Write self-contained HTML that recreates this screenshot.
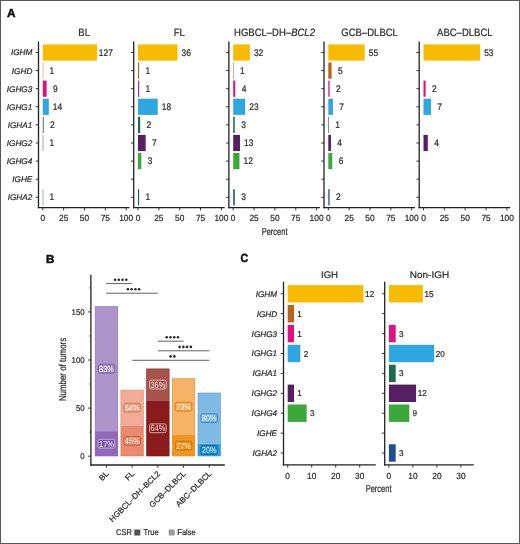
<!DOCTYPE html>
<html><head><meta charset="utf-8"><style>
html,body{margin:0;padding:0;background:#fff;}
#fig{position:relative;width:520px;height:544px;overflow:hidden;background:#fff;}
#fig svg{position:absolute;left:0;top:0;will-change:transform;}
#frame{position:absolute;left:0;top:0;width:520px;height:544px;box-sizing:border-box;border:1px solid #585858;}
text{font-family:"Liberation Sans", sans-serif;text-rendering:geometricPrecision;}
</style></head><body>
<div id="fig">
<svg width="520" height="544" viewBox="0 0 520 544" font-family="Liberation Sans, sans-serif">
<text transform="translate(7.1,16.8)" font-size="11.8" text-anchor="start" fill="#111" stroke="#111" stroke-width="0.5" font-weight="bold">A</text>
<rect x="42.8" y="44.4" width="54.32" height="16.2" fill="#F9BB00"/>
<text transform="translate(105.82,55.6) scale(0.88,1)" font-size="9.5" text-anchor="middle" fill="#2b2b2b" stroke="#2b2b2b" stroke-width="0.22">127</text>
<rect x="42.8" y="62.5" width="0.43" height="16.2" fill="#B8651C"/>
<text transform="translate(51.93,73.7) scale(0.88,1)" font-size="9.5" text-anchor="middle" fill="#2b2b2b" stroke="#2b2b2b" stroke-width="0.22">1</text>
<rect x="42.8" y="80.6" width="3.85" height="16.2" fill="#E0127F"/>
<text transform="translate(55.35,91.8) scale(0.88,1)" font-size="9.5" text-anchor="middle" fill="#2b2b2b" stroke="#2b2b2b" stroke-width="0.22">9</text>
<rect x="42.8" y="98.7" width="5.99" height="16.2" fill="#2EA6E0"/>
<text transform="translate(57.49,109.9) scale(0.88,1)" font-size="9.5" text-anchor="middle" fill="#2b2b2b" stroke="#2b2b2b" stroke-width="0.22">14</text>
<rect x="42.8" y="116.8" width="0.86" height="16.2" fill="#1D6A50"/>
<text transform="translate(52.36,128) scale(0.88,1)" font-size="9.5" text-anchor="middle" fill="#2b2b2b" stroke="#2b2b2b" stroke-width="0.22">2</text>
<rect x="42.8" y="134.9" width="0.43" height="16.2" fill="#571E62"/>
<text transform="translate(51.93,146.1) scale(0.88,1)" font-size="9.5" text-anchor="middle" fill="#2b2b2b" stroke="#2b2b2b" stroke-width="0.22">1</text>
<rect x="42.8" y="189.2" width="0.43" height="16.2" fill="#1E4E8C"/>
<text transform="translate(51.93,200.4) scale(0.88,1)" font-size="9.5" text-anchor="middle" fill="#2b2b2b" stroke="#2b2b2b" stroke-width="0.22">1</text>
<line x1="38.5" y1="41.5" x2="38.5" y2="208.25" stroke="#222222" stroke-width="1.3"/>
<line x1="37.85" y1="207.6" x2="129.5" y2="207.6" stroke="#222222" stroke-width="1.3"/>
<line x1="35.7" y1="52.5" x2="38.5" y2="52.5" stroke="#222222" stroke-width="0.9"/>
<line x1="35.7" y1="70.6" x2="38.5" y2="70.6" stroke="#222222" stroke-width="0.9"/>
<line x1="35.7" y1="88.7" x2="38.5" y2="88.7" stroke="#222222" stroke-width="0.9"/>
<line x1="35.7" y1="106.8" x2="38.5" y2="106.8" stroke="#222222" stroke-width="0.9"/>
<line x1="35.7" y1="124.9" x2="38.5" y2="124.9" stroke="#222222" stroke-width="0.9"/>
<line x1="35.7" y1="143" x2="38.5" y2="143" stroke="#222222" stroke-width="0.9"/>
<line x1="35.7" y1="161.1" x2="38.5" y2="161.1" stroke="#222222" stroke-width="0.9"/>
<line x1="35.7" y1="179.2" x2="38.5" y2="179.2" stroke="#222222" stroke-width="0.9"/>
<line x1="35.7" y1="197.3" x2="38.5" y2="197.3" stroke="#222222" stroke-width="0.9"/>
<line x1="42.8" y1="207.6" x2="42.8" y2="210.4" stroke="#222222" stroke-width="0.9"/>
<text transform="translate(42.8,221.2) scale(0.95,1)" font-size="8.8" text-anchor="middle" fill="#2b2b2b" stroke="#2b2b2b" stroke-width="0.22">0</text>
<line x1="63.65" y1="207.6" x2="63.65" y2="210.4" stroke="#222222" stroke-width="0.9"/>
<text transform="translate(63.65,221.2) scale(0.95,1)" font-size="8.8" text-anchor="middle" fill="#2b2b2b" stroke="#2b2b2b" stroke-width="0.22">25</text>
<line x1="84.5" y1="207.6" x2="84.5" y2="210.4" stroke="#222222" stroke-width="0.9"/>
<text transform="translate(84.5,221.2) scale(0.95,1)" font-size="8.8" text-anchor="middle" fill="#2b2b2b" stroke="#2b2b2b" stroke-width="0.22">50</text>
<line x1="105.35" y1="207.6" x2="105.35" y2="210.4" stroke="#222222" stroke-width="0.9"/>
<text transform="translate(105.35,221.2) scale(0.95,1)" font-size="8.8" text-anchor="middle" fill="#2b2b2b" stroke="#2b2b2b" stroke-width="0.22">75</text>
<line x1="126.2" y1="207.6" x2="126.2" y2="210.4" stroke="#222222" stroke-width="0.9"/>
<text transform="translate(126.2,221.2) scale(0.95,1)" font-size="8.8" text-anchor="middle" fill="#2b2b2b" stroke="#2b2b2b" stroke-width="0.22">100</text>
<text transform="translate(84.1,35.6) scale(0.89,1)" font-size="10.7" text-anchor="middle" fill="#2b2b2b" stroke="#2b2b2b" stroke-width="0.22">BL</text>
<rect x="138" y="44.4" width="39.51" height="16.2" fill="#F9BB00"/>
<text transform="translate(186.21,55.6) scale(0.88,1)" font-size="9.5" text-anchor="middle" fill="#2b2b2b" stroke="#2b2b2b" stroke-width="0.22">36</text>
<rect x="138" y="62.5" width="1.1" height="16.2" fill="#B8651C"/>
<text transform="translate(147.8,73.7) scale(0.88,1)" font-size="9.5" text-anchor="middle" fill="#2b2b2b" stroke="#2b2b2b" stroke-width="0.22">1</text>
<rect x="138" y="80.6" width="1.1" height="16.2" fill="#E0127F"/>
<text transform="translate(147.8,91.8) scale(0.88,1)" font-size="9.5" text-anchor="middle" fill="#2b2b2b" stroke="#2b2b2b" stroke-width="0.22">1</text>
<rect x="138" y="98.7" width="19.75" height="16.2" fill="#2EA6E0"/>
<text transform="translate(166.45,109.9) scale(0.88,1)" font-size="9.5" text-anchor="middle" fill="#2b2b2b" stroke="#2b2b2b" stroke-width="0.22">18</text>
<rect x="138" y="116.8" width="2.19" height="16.2" fill="#1D6A50"/>
<text transform="translate(148.89,128) scale(0.88,1)" font-size="9.5" text-anchor="middle" fill="#2b2b2b" stroke="#2b2b2b" stroke-width="0.22">2</text>
<rect x="138" y="134.9" width="7.68" height="16.2" fill="#571E62"/>
<text transform="translate(154.38,146.1) scale(0.88,1)" font-size="9.5" text-anchor="middle" fill="#2b2b2b" stroke="#2b2b2b" stroke-width="0.22">7</text>
<rect x="138" y="153" width="3.29" height="16.2" fill="#3AA83A"/>
<text transform="translate(149.99,164.2) scale(0.88,1)" font-size="9.5" text-anchor="middle" fill="#2b2b2b" stroke="#2b2b2b" stroke-width="0.22">3</text>
<rect x="138" y="189.2" width="1.1" height="16.2" fill="#1E4E8C"/>
<text transform="translate(147.8,200.4) scale(0.88,1)" font-size="9.5" text-anchor="middle" fill="#2b2b2b" stroke="#2b2b2b" stroke-width="0.22">1</text>
<line x1="133.7" y1="41.5" x2="133.7" y2="208.25" stroke="#222222" stroke-width="1.3"/>
<line x1="133.05" y1="207.6" x2="224.7" y2="207.6" stroke="#222222" stroke-width="1.3"/>
<line x1="130.9" y1="52.5" x2="133.7" y2="52.5" stroke="#222222" stroke-width="0.9"/>
<line x1="130.9" y1="70.6" x2="133.7" y2="70.6" stroke="#222222" stroke-width="0.9"/>
<line x1="130.9" y1="88.7" x2="133.7" y2="88.7" stroke="#222222" stroke-width="0.9"/>
<line x1="130.9" y1="106.8" x2="133.7" y2="106.8" stroke="#222222" stroke-width="0.9"/>
<line x1="130.9" y1="124.9" x2="133.7" y2="124.9" stroke="#222222" stroke-width="0.9"/>
<line x1="130.9" y1="143" x2="133.7" y2="143" stroke="#222222" stroke-width="0.9"/>
<line x1="130.9" y1="161.1" x2="133.7" y2="161.1" stroke="#222222" stroke-width="0.9"/>
<line x1="130.9" y1="179.2" x2="133.7" y2="179.2" stroke="#222222" stroke-width="0.9"/>
<line x1="130.9" y1="197.3" x2="133.7" y2="197.3" stroke="#222222" stroke-width="0.9"/>
<line x1="138" y1="207.6" x2="138" y2="210.4" stroke="#222222" stroke-width="0.9"/>
<text transform="translate(138,221.2) scale(0.95,1)" font-size="8.8" text-anchor="middle" fill="#2b2b2b" stroke="#2b2b2b" stroke-width="0.22">0</text>
<line x1="158.85" y1="207.6" x2="158.85" y2="210.4" stroke="#222222" stroke-width="0.9"/>
<text transform="translate(158.85,221.2) scale(0.95,1)" font-size="8.8" text-anchor="middle" fill="#2b2b2b" stroke="#2b2b2b" stroke-width="0.22">25</text>
<line x1="179.7" y1="207.6" x2="179.7" y2="210.4" stroke="#222222" stroke-width="0.9"/>
<text transform="translate(179.7,221.2) scale(0.95,1)" font-size="8.8" text-anchor="middle" fill="#2b2b2b" stroke="#2b2b2b" stroke-width="0.22">50</text>
<line x1="200.55" y1="207.6" x2="200.55" y2="210.4" stroke="#222222" stroke-width="0.9"/>
<text transform="translate(200.55,221.2) scale(0.95,1)" font-size="8.8" text-anchor="middle" fill="#2b2b2b" stroke="#2b2b2b" stroke-width="0.22">75</text>
<line x1="221.4" y1="207.6" x2="221.4" y2="210.4" stroke="#222222" stroke-width="0.9"/>
<text transform="translate(221.4,221.2) scale(0.95,1)" font-size="8.8" text-anchor="middle" fill="#2b2b2b" stroke="#2b2b2b" stroke-width="0.22">100</text>
<text transform="translate(179.3,35.6) scale(0.89,1)" font-size="10.7" text-anchor="middle" fill="#2b2b2b" stroke="#2b2b2b" stroke-width="0.22">FL</text>
<rect x="233.2" y="44.4" width="16.68" height="16.2" fill="#F9BB00"/>
<text transform="translate(258.58,55.6) scale(0.88,1)" font-size="9.5" text-anchor="middle" fill="#2b2b2b" stroke="#2b2b2b" stroke-width="0.22">32</text>
<rect x="233.2" y="62.5" width="0.52" height="16.2" fill="#B8651C"/>
<text transform="translate(242.42,73.7) scale(0.88,1)" font-size="9.5" text-anchor="middle" fill="#2b2b2b" stroke="#2b2b2b" stroke-width="0.22">1</text>
<rect x="233.2" y="80.6" width="2.09" height="16.2" fill="#E0127F"/>
<text transform="translate(243.99,91.8) scale(0.88,1)" font-size="9.5" text-anchor="middle" fill="#2b2b2b" stroke="#2b2b2b" stroke-width="0.22">4</text>
<rect x="233.2" y="98.7" width="11.99" height="16.2" fill="#2EA6E0"/>
<text transform="translate(253.89,109.9) scale(0.88,1)" font-size="9.5" text-anchor="middle" fill="#2b2b2b" stroke="#2b2b2b" stroke-width="0.22">23</text>
<rect x="233.2" y="116.8" width="1.56" height="16.2" fill="#1D6A50"/>
<text transform="translate(243.46,128) scale(0.88,1)" font-size="9.5" text-anchor="middle" fill="#2b2b2b" stroke="#2b2b2b" stroke-width="0.22">3</text>
<rect x="233.2" y="134.9" width="6.78" height="16.2" fill="#571E62"/>
<text transform="translate(248.68,146.1) scale(0.88,1)" font-size="9.5" text-anchor="middle" fill="#2b2b2b" stroke="#2b2b2b" stroke-width="0.22">13</text>
<rect x="233.2" y="153" width="6.25" height="16.2" fill="#3AA83A"/>
<text transform="translate(248.16,164.2) scale(0.88,1)" font-size="9.5" text-anchor="middle" fill="#2b2b2b" stroke="#2b2b2b" stroke-width="0.22">12</text>
<rect x="233.2" y="189.2" width="1.56" height="16.2" fill="#1E4E8C"/>
<text transform="translate(243.46,200.4) scale(0.88,1)" font-size="9.5" text-anchor="middle" fill="#2b2b2b" stroke="#2b2b2b" stroke-width="0.22">3</text>
<line x1="228.9" y1="41.5" x2="228.9" y2="208.25" stroke="#222222" stroke-width="1.3"/>
<line x1="228.25" y1="207.6" x2="319.9" y2="207.6" stroke="#222222" stroke-width="1.3"/>
<line x1="226.1" y1="52.5" x2="228.9" y2="52.5" stroke="#222222" stroke-width="0.9"/>
<line x1="226.1" y1="70.6" x2="228.9" y2="70.6" stroke="#222222" stroke-width="0.9"/>
<line x1="226.1" y1="88.7" x2="228.9" y2="88.7" stroke="#222222" stroke-width="0.9"/>
<line x1="226.1" y1="106.8" x2="228.9" y2="106.8" stroke="#222222" stroke-width="0.9"/>
<line x1="226.1" y1="124.9" x2="228.9" y2="124.9" stroke="#222222" stroke-width="0.9"/>
<line x1="226.1" y1="143" x2="228.9" y2="143" stroke="#222222" stroke-width="0.9"/>
<line x1="226.1" y1="161.1" x2="228.9" y2="161.1" stroke="#222222" stroke-width="0.9"/>
<line x1="226.1" y1="179.2" x2="228.9" y2="179.2" stroke="#222222" stroke-width="0.9"/>
<line x1="226.1" y1="197.3" x2="228.9" y2="197.3" stroke="#222222" stroke-width="0.9"/>
<line x1="233.2" y1="207.6" x2="233.2" y2="210.4" stroke="#222222" stroke-width="0.9"/>
<text transform="translate(233.2,221.2) scale(0.95,1)" font-size="8.8" text-anchor="middle" fill="#2b2b2b" stroke="#2b2b2b" stroke-width="0.22">0</text>
<line x1="254.05" y1="207.6" x2="254.05" y2="210.4" stroke="#222222" stroke-width="0.9"/>
<text transform="translate(254.05,221.2) scale(0.95,1)" font-size="8.8" text-anchor="middle" fill="#2b2b2b" stroke="#2b2b2b" stroke-width="0.22">25</text>
<line x1="274.9" y1="207.6" x2="274.9" y2="210.4" stroke="#222222" stroke-width="0.9"/>
<text transform="translate(274.9,221.2) scale(0.95,1)" font-size="8.8" text-anchor="middle" fill="#2b2b2b" stroke="#2b2b2b" stroke-width="0.22">50</text>
<line x1="295.75" y1="207.6" x2="295.75" y2="210.4" stroke="#222222" stroke-width="0.9"/>
<text transform="translate(295.75,221.2) scale(0.95,1)" font-size="8.8" text-anchor="middle" fill="#2b2b2b" stroke="#2b2b2b" stroke-width="0.22">75</text>
<line x1="316.6" y1="207.6" x2="316.6" y2="210.4" stroke="#222222" stroke-width="0.9"/>
<text transform="translate(316.6,221.2) scale(0.95,1)" font-size="8.8" text-anchor="middle" fill="#2b2b2b" stroke="#2b2b2b" stroke-width="0.22">100</text>
<text transform="translate(274.5,35.6) scale(0.89,1)" font-size="10.7" text-anchor="middle" fill="#2b2b2b" stroke="#2b2b2b" stroke-width="0.22">HGBCL–DH–<tspan font-style="italic">BCL2</tspan></text>
<rect x="328.3" y="44.4" width="36.4" height="16.2" fill="#F9BB00"/>
<text transform="translate(373.4,55.6) scale(0.88,1)" font-size="9.5" text-anchor="middle" fill="#2b2b2b" stroke="#2b2b2b" stroke-width="0.22">55</text>
<rect x="328.3" y="62.5" width="3.31" height="16.2" fill="#B8651C"/>
<text transform="translate(340.31,73.7) scale(0.88,1)" font-size="9.5" text-anchor="middle" fill="#2b2b2b" stroke="#2b2b2b" stroke-width="0.22">5</text>
<rect x="328.3" y="80.6" width="1.32" height="16.2" fill="#E0127F"/>
<text transform="translate(338.32,91.8) scale(0.88,1)" font-size="9.5" text-anchor="middle" fill="#2b2b2b" stroke="#2b2b2b" stroke-width="0.22">2</text>
<rect x="328.3" y="98.7" width="4.63" height="16.2" fill="#2EA6E0"/>
<text transform="translate(341.63,109.9) scale(0.88,1)" font-size="9.5" text-anchor="middle" fill="#2b2b2b" stroke="#2b2b2b" stroke-width="0.22">7</text>
<rect x="328.3" y="116.8" width="0.66" height="16.2" fill="#1D6A50"/>
<text transform="translate(337.66,128) scale(0.88,1)" font-size="9.5" text-anchor="middle" fill="#2b2b2b" stroke="#2b2b2b" stroke-width="0.22">1</text>
<rect x="328.3" y="134.9" width="2.65" height="16.2" fill="#571E62"/>
<text transform="translate(339.65,146.1) scale(0.88,1)" font-size="9.5" text-anchor="middle" fill="#2b2b2b" stroke="#2b2b2b" stroke-width="0.22">4</text>
<rect x="328.3" y="153" width="3.97" height="16.2" fill="#3AA83A"/>
<text transform="translate(340.97,164.2) scale(0.88,1)" font-size="9.5" text-anchor="middle" fill="#2b2b2b" stroke="#2b2b2b" stroke-width="0.22">6</text>
<rect x="328.3" y="189.2" width="1.32" height="16.2" fill="#1E4E8C"/>
<text transform="translate(338.32,200.4) scale(0.88,1)" font-size="9.5" text-anchor="middle" fill="#2b2b2b" stroke="#2b2b2b" stroke-width="0.22">2</text>
<line x1="324" y1="41.5" x2="324" y2="208.25" stroke="#222222" stroke-width="1.3"/>
<line x1="323.35" y1="207.6" x2="415" y2="207.6" stroke="#222222" stroke-width="1.3"/>
<line x1="321.2" y1="52.5" x2="324" y2="52.5" stroke="#222222" stroke-width="0.9"/>
<line x1="321.2" y1="70.6" x2="324" y2="70.6" stroke="#222222" stroke-width="0.9"/>
<line x1="321.2" y1="88.7" x2="324" y2="88.7" stroke="#222222" stroke-width="0.9"/>
<line x1="321.2" y1="106.8" x2="324" y2="106.8" stroke="#222222" stroke-width="0.9"/>
<line x1="321.2" y1="124.9" x2="324" y2="124.9" stroke="#222222" stroke-width="0.9"/>
<line x1="321.2" y1="143" x2="324" y2="143" stroke="#222222" stroke-width="0.9"/>
<line x1="321.2" y1="161.1" x2="324" y2="161.1" stroke="#222222" stroke-width="0.9"/>
<line x1="321.2" y1="179.2" x2="324" y2="179.2" stroke="#222222" stroke-width="0.9"/>
<line x1="321.2" y1="197.3" x2="324" y2="197.3" stroke="#222222" stroke-width="0.9"/>
<line x1="328.3" y1="207.6" x2="328.3" y2="210.4" stroke="#222222" stroke-width="0.9"/>
<text transform="translate(328.3,221.2) scale(0.95,1)" font-size="8.8" text-anchor="middle" fill="#2b2b2b" stroke="#2b2b2b" stroke-width="0.22">0</text>
<line x1="349.15" y1="207.6" x2="349.15" y2="210.4" stroke="#222222" stroke-width="0.9"/>
<text transform="translate(349.15,221.2) scale(0.95,1)" font-size="8.8" text-anchor="middle" fill="#2b2b2b" stroke="#2b2b2b" stroke-width="0.22">25</text>
<line x1="370" y1="207.6" x2="370" y2="210.4" stroke="#222222" stroke-width="0.9"/>
<text transform="translate(370,221.2) scale(0.95,1)" font-size="8.8" text-anchor="middle" fill="#2b2b2b" stroke="#2b2b2b" stroke-width="0.22">50</text>
<line x1="390.85" y1="207.6" x2="390.85" y2="210.4" stroke="#222222" stroke-width="0.9"/>
<text transform="translate(390.85,221.2) scale(0.95,1)" font-size="8.8" text-anchor="middle" fill="#2b2b2b" stroke="#2b2b2b" stroke-width="0.22">75</text>
<line x1="411.7" y1="207.6" x2="411.7" y2="210.4" stroke="#222222" stroke-width="0.9"/>
<text transform="translate(411.7,221.2) scale(0.95,1)" font-size="8.8" text-anchor="middle" fill="#2b2b2b" stroke="#2b2b2b" stroke-width="0.22">100</text>
<text transform="translate(369.6,35.6) scale(0.89,1)" font-size="10.7" text-anchor="middle" fill="#2b2b2b" stroke="#2b2b2b" stroke-width="0.22">GCB–DLBCL</text>
<rect x="423.5" y="44.4" width="56.67" height="16.2" fill="#F9BB00"/>
<text transform="translate(488.87,55.6) scale(0.88,1)" font-size="9.5" text-anchor="middle" fill="#2b2b2b" stroke="#2b2b2b" stroke-width="0.22">53</text>
<rect x="423.5" y="80.6" width="2.14" height="16.2" fill="#E0127F"/>
<text transform="translate(434.34,91.8) scale(0.88,1)" font-size="9.5" text-anchor="middle" fill="#2b2b2b" stroke="#2b2b2b" stroke-width="0.22">2</text>
<rect x="423.5" y="98.7" width="7.48" height="16.2" fill="#2EA6E0"/>
<text transform="translate(439.68,109.9) scale(0.88,1)" font-size="9.5" text-anchor="middle" fill="#2b2b2b" stroke="#2b2b2b" stroke-width="0.22">7</text>
<rect x="423.5" y="134.9" width="4.28" height="16.2" fill="#571E62"/>
<text transform="translate(436.48,146.1) scale(0.88,1)" font-size="9.5" text-anchor="middle" fill="#2b2b2b" stroke="#2b2b2b" stroke-width="0.22">4</text>
<line x1="419.2" y1="41.5" x2="419.2" y2="208.25" stroke="#222222" stroke-width="1.3"/>
<line x1="418.55" y1="207.6" x2="510.2" y2="207.6" stroke="#222222" stroke-width="1.3"/>
<line x1="416.4" y1="52.5" x2="419.2" y2="52.5" stroke="#222222" stroke-width="0.9"/>
<line x1="416.4" y1="70.6" x2="419.2" y2="70.6" stroke="#222222" stroke-width="0.9"/>
<line x1="416.4" y1="88.7" x2="419.2" y2="88.7" stroke="#222222" stroke-width="0.9"/>
<line x1="416.4" y1="106.8" x2="419.2" y2="106.8" stroke="#222222" stroke-width="0.9"/>
<line x1="416.4" y1="124.9" x2="419.2" y2="124.9" stroke="#222222" stroke-width="0.9"/>
<line x1="416.4" y1="143" x2="419.2" y2="143" stroke="#222222" stroke-width="0.9"/>
<line x1="416.4" y1="161.1" x2="419.2" y2="161.1" stroke="#222222" stroke-width="0.9"/>
<line x1="416.4" y1="179.2" x2="419.2" y2="179.2" stroke="#222222" stroke-width="0.9"/>
<line x1="416.4" y1="197.3" x2="419.2" y2="197.3" stroke="#222222" stroke-width="0.9"/>
<line x1="423.5" y1="207.6" x2="423.5" y2="210.4" stroke="#222222" stroke-width="0.9"/>
<text transform="translate(423.5,221.2) scale(0.95,1)" font-size="8.8" text-anchor="middle" fill="#2b2b2b" stroke="#2b2b2b" stroke-width="0.22">0</text>
<line x1="444.35" y1="207.6" x2="444.35" y2="210.4" stroke="#222222" stroke-width="0.9"/>
<text transform="translate(444.35,221.2) scale(0.95,1)" font-size="8.8" text-anchor="middle" fill="#2b2b2b" stroke="#2b2b2b" stroke-width="0.22">25</text>
<line x1="465.2" y1="207.6" x2="465.2" y2="210.4" stroke="#222222" stroke-width="0.9"/>
<text transform="translate(465.2,221.2) scale(0.95,1)" font-size="8.8" text-anchor="middle" fill="#2b2b2b" stroke="#2b2b2b" stroke-width="0.22">50</text>
<line x1="486.05" y1="207.6" x2="486.05" y2="210.4" stroke="#222222" stroke-width="0.9"/>
<text transform="translate(486.05,221.2) scale(0.95,1)" font-size="8.8" text-anchor="middle" fill="#2b2b2b" stroke="#2b2b2b" stroke-width="0.22">75</text>
<line x1="506.9" y1="207.6" x2="506.9" y2="210.4" stroke="#222222" stroke-width="0.9"/>
<text transform="translate(506.9,221.2) scale(0.95,1)" font-size="8.8" text-anchor="middle" fill="#2b2b2b" stroke="#2b2b2b" stroke-width="0.22">100</text>
<text transform="translate(464.8,35.6) scale(0.89,1)" font-size="10.7" text-anchor="middle" fill="#2b2b2b" stroke="#2b2b2b" stroke-width="0.22">ABC–DLBCL</text>
<text transform="translate(32.3,55.4)" font-size="8.2" text-anchor="end" fill="#2b2b2b" stroke="#2b2b2b" stroke-width="0.22" font-style="italic">IGHM</text>
<text transform="translate(32.3,73.5)" font-size="8.2" text-anchor="end" fill="#2b2b2b" stroke="#2b2b2b" stroke-width="0.22" font-style="italic">IGHD</text>
<text transform="translate(32.3,91.6)" font-size="8.2" text-anchor="end" fill="#2b2b2b" stroke="#2b2b2b" stroke-width="0.22" font-style="italic">IGHG3</text>
<text transform="translate(32.3,109.7)" font-size="8.2" text-anchor="end" fill="#2b2b2b" stroke="#2b2b2b" stroke-width="0.22" font-style="italic">IGHG1</text>
<text transform="translate(32.3,127.8)" font-size="8.2" text-anchor="end" fill="#2b2b2b" stroke="#2b2b2b" stroke-width="0.22" font-style="italic">IGHA1</text>
<text transform="translate(32.3,145.9)" font-size="8.2" text-anchor="end" fill="#2b2b2b" stroke="#2b2b2b" stroke-width="0.22" font-style="italic">IGHG2</text>
<text transform="translate(32.3,164)" font-size="8.2" text-anchor="end" fill="#2b2b2b" stroke="#2b2b2b" stroke-width="0.22" font-style="italic">IGHG4</text>
<text transform="translate(32.3,182.1)" font-size="8.2" text-anchor="end" fill="#2b2b2b" stroke="#2b2b2b" stroke-width="0.22" font-style="italic">IGHE</text>
<text transform="translate(32.3,200.2)" font-size="8.2" text-anchor="end" fill="#2b2b2b" stroke="#2b2b2b" stroke-width="0.22" font-style="italic">IGHA2</text>
<text transform="translate(274.6,234.6) scale(0.75,1)" font-size="10" text-anchor="middle" fill="#2b2b2b" stroke="#2b2b2b" stroke-width="0.22">Percent</text>
<text transform="translate(46.1,262.5)" font-size="11.6" text-anchor="start" fill="#111" stroke="#111" stroke-width="0.5" font-weight="bold">B</text>
<rect x="94.9" y="306.13" width="23.1" height="125.06" fill="#AD95CB"/>
<rect x="94.9" y="431.19" width="23.1" height="25.01" fill="#9167BA"/>
<rect x="95.2" y="306.43" width="22.5" height="149.47" fill="none" stroke="#8E72B4" stroke-width="0.6" stroke-opacity="0.6"/>
<rect x="98.15" y="364.26" width="16.6" height="8.8" rx="1.5" ry="1.5" fill="#A088C0" stroke="#7A5CA5" stroke-width="0.9"/>
<text transform="translate(106.45,371.76) scale(0.84,1)" font-size="8.8" text-anchor="middle" fill="#F6F0FC" stroke="#F6F0FC" stroke-width="0.05">83%</text>
<rect x="98.15" y="439.29" width="16.6" height="8.8" rx="1.5" ry="1.5" fill="#7A50AA" stroke="#C8B4E0" stroke-width="0.9"/>
<text transform="translate(106.45,446.79) scale(0.84,1)" font-size="8.8" text-anchor="middle" fill="#F2EAFA" stroke="#F2EAFA" stroke-width="0.05">17%</text>
<line x1="106.45" y1="465" x2="106.45" y2="467.8" stroke="#222222" stroke-width="0.9"/>
<text transform="translate(109.15,474.3) rotate(-45)" font-size="8" text-anchor="end" fill="#2b2b2b" stroke="#2b2b2b" stroke-width="0.22">BL</text>
<rect x="120.6" y="389.82" width="23.1" height="35.59" fill="#F2AC95"/>
<rect x="120.6" y="425.42" width="23.1" height="30.78" fill="#E98A6E"/>
<rect x="120.9" y="390.12" width="22.5" height="65.78" fill="none" stroke="#D88468" stroke-width="0.6" stroke-opacity="0.6"/>
<rect x="123.85" y="403.22" width="16.6" height="8.8" rx="1.5" ry="1.5" fill="#EA9C82" stroke="#C8765E" stroke-width="0.9"/>
<text transform="translate(132.15,410.72) scale(0.84,1)" font-size="8.8" text-anchor="middle" fill="#FFF3EE" stroke="#FFF3EE" stroke-width="0.05">54%</text>
<rect x="123.85" y="436.41" width="16.6" height="8.8" rx="1.5" ry="1.5" fill="#E4805F" stroke="#C06048" stroke-width="0.9"/>
<text transform="translate(132.15,443.91) scale(0.84,1)" font-size="8.8" text-anchor="middle" fill="#FFEDE6" stroke="#FFEDE6" stroke-width="0.05">46%</text>
<line x1="132.15" y1="465" x2="132.15" y2="467.8" stroke="#222222" stroke-width="0.9"/>
<text transform="translate(134.85,474.3) rotate(-45)" font-size="8" text-anchor="end" fill="#2b2b2b" stroke="#2b2b2b" stroke-width="0.22">FL</text>
<rect x="146.3" y="368.66" width="23.1" height="31.75" fill="#A8544C"/>
<rect x="146.3" y="400.4" width="23.1" height="55.8" fill="#891B1D"/>
<rect x="146.6" y="368.96" width="22.5" height="86.94" fill="none" stroke="#7A1A1A" stroke-width="0.6" stroke-opacity="0.6"/>
<rect x="149.55" y="380.13" width="16.6" height="8.8" rx="1.5" ry="1.5" fill="#A04840" stroke="#E8C8C4" stroke-width="0.9"/>
<text transform="translate(157.85,387.63) scale(0.84,1)" font-size="8.8" text-anchor="middle" fill="#FBE5E0" stroke="#FBE5E0" stroke-width="0.05">36%</text>
<rect x="149.55" y="423.9" width="16.6" height="8.8" rx="1.5" ry="1.5" fill="#861A1C" stroke="#E8B8B0" stroke-width="0.9"/>
<text transform="translate(157.85,431.4) scale(0.84,1)" font-size="8.8" text-anchor="middle" fill="#F8D8D4" stroke="#F8D8D4" stroke-width="0.05">64%</text>
<line x1="157.85" y1="465" x2="157.85" y2="467.8" stroke="#222222" stroke-width="0.9"/>
<text transform="translate(160.55,474.3) rotate(-45)" font-size="8" text-anchor="end" fill="#2b2b2b" stroke="#2b2b2b" stroke-width="0.22">HGBCL–DH–BCL2</text>
<rect x="172" y="378.28" width="23.1" height="56.76" fill="#F6B267"/>
<rect x="172" y="435.04" width="23.1" height="21.16" fill="#F0961E"/>
<rect x="172.3" y="378.58" width="22.5" height="77.32" fill="none" stroke="#D8902E" stroke-width="0.6" stroke-opacity="0.6"/>
<rect x="175.25" y="402.26" width="16.6" height="8.8" rx="1.5" ry="1.5" fill="#F0A650" stroke="#D08020" stroke-width="0.9"/>
<text transform="translate(183.55,409.76) scale(0.84,1)" font-size="8.8" text-anchor="middle" fill="#FFF4E4" stroke="#FFF4E4" stroke-width="0.05">73%</text>
<rect x="175.25" y="441.22" width="16.6" height="8.8" rx="1.5" ry="1.5" fill="#EC8E10" stroke="#C87010" stroke-width="0.9"/>
<text transform="translate(183.55,448.72) scale(0.84,1)" font-size="8.8" text-anchor="middle" fill="#FFF0DC" stroke="#FFF0DC" stroke-width="0.05">27%</text>
<line x1="183.55" y1="465" x2="183.55" y2="467.8" stroke="#222222" stroke-width="0.9"/>
<text transform="translate(186.25,474.3) rotate(-45)" font-size="8" text-anchor="end" fill="#2b2b2b" stroke="#2b2b2b" stroke-width="0.22">GCB–DLBCL</text>
<rect x="197.7" y="392.71" width="23.1" height="50.99" fill="#7FB9E5"/>
<rect x="197.7" y="443.69" width="23.1" height="12.51" fill="#2AA0DA"/>
<rect x="198" y="393.01" width="22.5" height="62.89" fill="none" stroke="#5A9ACC" stroke-width="0.6" stroke-opacity="0.6"/>
<rect x="200.95" y="413.8" width="16.6" height="8.8" rx="1.5" ry="1.5" fill="#70AEDE" stroke="#3E88C4" stroke-width="0.9"/>
<text transform="translate(209.25,421.3) scale(0.84,1)" font-size="8.8" text-anchor="middle" fill="#F0F8FF" stroke="#F0F8FF" stroke-width="0.05">80%</text>
<rect x="200.95" y="445.55" width="16.6" height="8.8" rx="1.5" ry="1.5" fill="#1A85C8" stroke="#1068A8" stroke-width="0.9"/>
<text transform="translate(209.25,453.05) scale(0.84,1)" font-size="8.8" text-anchor="middle" fill="#CFF3FF" stroke="#CFF3FF" stroke-width="0.05">20%</text>
<line x1="209.25" y1="465" x2="209.25" y2="467.8" stroke="#222222" stroke-width="0.9"/>
<text transform="translate(211.95,474.3) rotate(-45)" font-size="8" text-anchor="end" fill="#2b2b2b" stroke="#2b2b2b" stroke-width="0.22">ABC–DLBCL</text>
<line x1="90.9" y1="274.8" x2="90.9" y2="465.65" stroke="#222222" stroke-width="1.3"/>
<line x1="90.25" y1="465" x2="224.8" y2="465" stroke="#222222" stroke-width="1.3"/>
<line x1="88.1" y1="456.2" x2="90.9" y2="456.2" stroke="#222222" stroke-width="0.9"/>
<text transform="translate(84.6,459.1) scale(0.94,1)" font-size="8.3" text-anchor="end" fill="#2b2b2b" stroke="#2b2b2b" stroke-width="0.22">0</text>
<line x1="88.1" y1="408.1" x2="90.9" y2="408.1" stroke="#222222" stroke-width="0.9"/>
<text transform="translate(84.6,411) scale(0.94,1)" font-size="8.3" text-anchor="end" fill="#2b2b2b" stroke="#2b2b2b" stroke-width="0.22">50</text>
<line x1="88.1" y1="360" x2="90.9" y2="360" stroke="#222222" stroke-width="0.9"/>
<text transform="translate(84.6,362.9) scale(0.94,1)" font-size="8.3" text-anchor="end" fill="#2b2b2b" stroke="#2b2b2b" stroke-width="0.22">100</text>
<line x1="88.1" y1="311.9" x2="90.9" y2="311.9" stroke="#222222" stroke-width="0.9"/>
<text transform="translate(84.6,314.8) scale(0.94,1)" font-size="8.3" text-anchor="end" fill="#2b2b2b" stroke="#2b2b2b" stroke-width="0.22">150</text>
<line x1="89.5" y1="432.15" x2="90.9" y2="432.15" stroke="#222222" stroke-width="0.9"/>
<line x1="89.5" y1="384.05" x2="90.9" y2="384.05" stroke="#222222" stroke-width="0.9"/>
<line x1="89.5" y1="335.95" x2="90.9" y2="335.95" stroke="#222222" stroke-width="0.9"/>
<line x1="89.5" y1="287.85" x2="90.9" y2="287.85" stroke="#222222" stroke-width="0.9"/>
<text transform="translate(65.6,369.5) rotate(-90) scale(0.79,1)" font-size="10" text-anchor="middle" fill="#2b2b2b" stroke="#2b2b2b" stroke-width="0.22">Number of tumors</text>
<line x1="106.2" y1="283.6" x2="131.9" y2="283.6" stroke="#3a3a3a" stroke-width="0.8"/>
<circle cx="115.03" cy="279.7" r="1.3" fill="#2a2a2a"/>
<circle cx="118.78" cy="279.7" r="1.3" fill="#2a2a2a"/>
<circle cx="122.53" cy="279.7" r="1.3" fill="#2a2a2a"/>
<circle cx="126.28" cy="279.7" r="1.3" fill="#2a2a2a"/>
<line x1="106.2" y1="293.2" x2="157.7" y2="293.2" stroke="#3a3a3a" stroke-width="0.8"/>
<circle cx="127.92" cy="289.3" r="1.3" fill="#2a2a2a"/>
<circle cx="131.67" cy="289.3" r="1.3" fill="#2a2a2a"/>
<circle cx="135.42" cy="289.3" r="1.3" fill="#2a2a2a"/>
<circle cx="139.17" cy="289.3" r="1.3" fill="#2a2a2a"/>
<line x1="157.9" y1="341.2" x2="183.6" y2="341.2" stroke="#3a3a3a" stroke-width="0.8"/>
<circle cx="166.72" cy="337.3" r="1.3" fill="#2a2a2a"/>
<circle cx="170.47" cy="337.3" r="1.3" fill="#2a2a2a"/>
<circle cx="174.22" cy="337.3" r="1.3" fill="#2a2a2a"/>
<circle cx="177.97" cy="337.3" r="1.3" fill="#2a2a2a"/>
<line x1="157.9" y1="350.8" x2="209.4" y2="350.8" stroke="#3a3a3a" stroke-width="0.8"/>
<circle cx="179.62" cy="346.9" r="1.3" fill="#2a2a2a"/>
<circle cx="183.38" cy="346.9" r="1.3" fill="#2a2a2a"/>
<circle cx="187.12" cy="346.9" r="1.3" fill="#2a2a2a"/>
<circle cx="190.88" cy="346.9" r="1.3" fill="#2a2a2a"/>
<line x1="132.3" y1="360.3" x2="209.4" y2="360.3" stroke="#3a3a3a" stroke-width="0.8"/>
<circle cx="170.58" cy="356.4" r="1.3" fill="#2a2a2a"/>
<circle cx="174.33" cy="356.4" r="1.3" fill="#2a2a2a"/>
<text transform="translate(116,535.3) scale(0.9,1)" font-size="8.4" text-anchor="start" fill="#2b2b2b" stroke="#2b2b2b" stroke-width="0.22">CSR</text>
<rect x="134.3" y="529.5" width="6" height="6" fill="#505050"/>
<text transform="translate(143.5,535.3) scale(0.9,1)" font-size="8.4" text-anchor="start" fill="#2b2b2b" stroke="#2b2b2b" stroke-width="0.22">True</text>
<rect x="168.7" y="529.5" width="6" height="6" fill="#9a9a9a"/>
<text transform="translate(177.3,535.3) scale(0.9,1)" font-size="8.4" text-anchor="start" fill="#2b2b2b" stroke="#2b2b2b" stroke-width="0.22">False</text>
<text transform="translate(244.45,261.9) scale(0.9,1)" font-size="11.8" text-anchor="middle" fill="#111" stroke="#111" stroke-width="0.5" font-weight="bold">C</text>
<rect x="287.7" y="285.1" width="75.79" height="17.4" fill="#F9BB00"/>
<text transform="translate(365.09,296.8) scale(0.95,1)" font-size="8.6" text-anchor="start" fill="#2b2b2b" stroke="#2b2b2b" stroke-width="0.22">12</text>
<rect x="287.7" y="305" width="6.32" height="17.4" fill="#B8651C"/>
<text transform="translate(297.32,316.7) scale(0.95,1)" font-size="8.6" text-anchor="start" fill="#2b2b2b" stroke="#2b2b2b" stroke-width="0.22">1</text>
<rect x="287.7" y="324.9" width="6.32" height="17.4" fill="#E0127F"/>
<text transform="translate(297.32,336.6) scale(0.95,1)" font-size="8.6" text-anchor="start" fill="#2b2b2b" stroke="#2b2b2b" stroke-width="0.22">1</text>
<rect x="287.7" y="344.8" width="12.63" height="17.4" fill="#2EA6E0"/>
<text transform="translate(303.63,356.5) scale(0.95,1)" font-size="8.6" text-anchor="start" fill="#2b2b2b" stroke="#2b2b2b" stroke-width="0.22">2</text>
<rect x="287.7" y="384.6" width="6.32" height="17.4" fill="#571E62"/>
<text transform="translate(297.32,396.3) scale(0.95,1)" font-size="8.6" text-anchor="start" fill="#2b2b2b" stroke="#2b2b2b" stroke-width="0.22">1</text>
<rect x="287.7" y="404.5" width="18.95" height="17.4" fill="#3AA83A"/>
<text transform="translate(309.95,416.2) scale(0.95,1)" font-size="8.6" text-anchor="start" fill="#2b2b2b" stroke="#2b2b2b" stroke-width="0.22">3</text>
<line x1="283.5" y1="281.8" x2="283.5" y2="465.45" stroke="#222222" stroke-width="1.3"/>
<line x1="282.85" y1="464.8" x2="375.8" y2="464.8" stroke="#222222" stroke-width="1.3"/>
<line x1="280.7" y1="293.8" x2="283.5" y2="293.8" stroke="#222222" stroke-width="0.9"/>
<line x1="280.7" y1="313.7" x2="283.5" y2="313.7" stroke="#222222" stroke-width="0.9"/>
<line x1="280.7" y1="333.6" x2="283.5" y2="333.6" stroke="#222222" stroke-width="0.9"/>
<line x1="280.7" y1="353.5" x2="283.5" y2="353.5" stroke="#222222" stroke-width="0.9"/>
<line x1="280.7" y1="373.4" x2="283.5" y2="373.4" stroke="#222222" stroke-width="0.9"/>
<line x1="280.7" y1="393.3" x2="283.5" y2="393.3" stroke="#222222" stroke-width="0.9"/>
<line x1="280.7" y1="413.2" x2="283.5" y2="413.2" stroke="#222222" stroke-width="0.9"/>
<line x1="280.7" y1="433.1" x2="283.5" y2="433.1" stroke="#222222" stroke-width="0.9"/>
<line x1="280.7" y1="453" x2="283.5" y2="453" stroke="#222222" stroke-width="0.9"/>
<line x1="287.7" y1="464.8" x2="287.7" y2="467.6" stroke="#222222" stroke-width="0.9"/>
<text transform="translate(287.7,478.7) scale(0.95,1)" font-size="8.8" text-anchor="middle" fill="#2b2b2b" stroke="#2b2b2b" stroke-width="0.22">0</text>
<line x1="311.7" y1="464.8" x2="311.7" y2="467.6" stroke="#222222" stroke-width="0.9"/>
<text transform="translate(311.7,478.7) scale(0.95,1)" font-size="8.8" text-anchor="middle" fill="#2b2b2b" stroke="#2b2b2b" stroke-width="0.22">10</text>
<line x1="335.7" y1="464.8" x2="335.7" y2="467.6" stroke="#222222" stroke-width="0.9"/>
<text transform="translate(335.7,478.7) scale(0.95,1)" font-size="8.8" text-anchor="middle" fill="#2b2b2b" stroke="#2b2b2b" stroke-width="0.22">20</text>
<line x1="359.7" y1="464.8" x2="359.7" y2="467.6" stroke="#222222" stroke-width="0.9"/>
<text transform="translate(359.7,478.7) scale(0.95,1)" font-size="8.8" text-anchor="middle" fill="#2b2b2b" stroke="#2b2b2b" stroke-width="0.22">30</text>
<text transform="translate(329.5,278)" font-size="9.6" text-anchor="middle" fill="#2b2b2b" stroke="#2b2b2b" stroke-width="0.22">IGH</text>
<rect x="388.9" y="285.1" width="33.96" height="17.4" fill="#F9BB00"/>
<text transform="translate(424.46,296.8) scale(0.95,1)" font-size="8.6" text-anchor="start" fill="#2b2b2b" stroke="#2b2b2b" stroke-width="0.22">15</text>
<rect x="388.9" y="324.9" width="6.79" height="17.4" fill="#E0127F"/>
<text transform="translate(398.99,336.6) scale(0.95,1)" font-size="8.6" text-anchor="start" fill="#2b2b2b" stroke="#2b2b2b" stroke-width="0.22">3</text>
<rect x="388.9" y="344.8" width="45.28" height="17.4" fill="#2EA6E0"/>
<text transform="translate(435.78,356.5) scale(0.95,1)" font-size="8.6" text-anchor="start" fill="#2b2b2b" stroke="#2b2b2b" stroke-width="0.22">20</text>
<rect x="388.9" y="364.7" width="6.79" height="17.4" fill="#1D6A50"/>
<text transform="translate(398.99,376.4) scale(0.95,1)" font-size="8.6" text-anchor="start" fill="#2b2b2b" stroke="#2b2b2b" stroke-width="0.22">3</text>
<rect x="388.9" y="384.6" width="27.17" height="17.4" fill="#571E62"/>
<text transform="translate(417.67,396.3) scale(0.95,1)" font-size="8.6" text-anchor="start" fill="#2b2b2b" stroke="#2b2b2b" stroke-width="0.22">12</text>
<rect x="388.9" y="404.5" width="20.38" height="17.4" fill="#3AA83A"/>
<text transform="translate(412.58,416.2) scale(0.95,1)" font-size="8.6" text-anchor="start" fill="#2b2b2b" stroke="#2b2b2b" stroke-width="0.22">9</text>
<rect x="388.9" y="444.3" width="6.79" height="17.4" fill="#1E4E8C"/>
<text transform="translate(398.99,456) scale(0.95,1)" font-size="8.6" text-anchor="start" fill="#2b2b2b" stroke="#2b2b2b" stroke-width="0.22">3</text>
<line x1="384.7" y1="281.8" x2="384.7" y2="465.45" stroke="#222222" stroke-width="1.3"/>
<line x1="384.05" y1="464.8" x2="473.7" y2="464.8" stroke="#222222" stroke-width="1.3"/>
<line x1="381.9" y1="293.8" x2="384.7" y2="293.8" stroke="#222222" stroke-width="0.9"/>
<line x1="381.9" y1="313.7" x2="384.7" y2="313.7" stroke="#222222" stroke-width="0.9"/>
<line x1="381.9" y1="333.6" x2="384.7" y2="333.6" stroke="#222222" stroke-width="0.9"/>
<line x1="381.9" y1="353.5" x2="384.7" y2="353.5" stroke="#222222" stroke-width="0.9"/>
<line x1="381.9" y1="373.4" x2="384.7" y2="373.4" stroke="#222222" stroke-width="0.9"/>
<line x1="381.9" y1="393.3" x2="384.7" y2="393.3" stroke="#222222" stroke-width="0.9"/>
<line x1="381.9" y1="413.2" x2="384.7" y2="413.2" stroke="#222222" stroke-width="0.9"/>
<line x1="381.9" y1="433.1" x2="384.7" y2="433.1" stroke="#222222" stroke-width="0.9"/>
<line x1="381.9" y1="453" x2="384.7" y2="453" stroke="#222222" stroke-width="0.9"/>
<line x1="388.9" y1="464.8" x2="388.9" y2="467.6" stroke="#222222" stroke-width="0.9"/>
<text transform="translate(388.9,478.7) scale(0.95,1)" font-size="8.8" text-anchor="middle" fill="#2b2b2b" stroke="#2b2b2b" stroke-width="0.22">0</text>
<line x1="412.9" y1="464.8" x2="412.9" y2="467.6" stroke="#222222" stroke-width="0.9"/>
<text transform="translate(412.9,478.7) scale(0.95,1)" font-size="8.8" text-anchor="middle" fill="#2b2b2b" stroke="#2b2b2b" stroke-width="0.22">10</text>
<line x1="436.9" y1="464.8" x2="436.9" y2="467.6" stroke="#222222" stroke-width="0.9"/>
<text transform="translate(436.9,478.7) scale(0.95,1)" font-size="8.8" text-anchor="middle" fill="#2b2b2b" stroke="#2b2b2b" stroke-width="0.22">20</text>
<line x1="460.9" y1="464.8" x2="460.9" y2="467.6" stroke="#222222" stroke-width="0.9"/>
<text transform="translate(460.9,478.7) scale(0.95,1)" font-size="8.8" text-anchor="middle" fill="#2b2b2b" stroke="#2b2b2b" stroke-width="0.22">30</text>
<text transform="translate(429.5,278) scale(1.04,1)" font-size="9.6" text-anchor="middle" fill="#2b2b2b" stroke="#2b2b2b" stroke-width="0.22">Non-IGH</text>
<text transform="translate(277.1,296.7)" font-size="8.2" text-anchor="end" fill="#2b2b2b" stroke="#2b2b2b" stroke-width="0.22" font-style="italic">IGHM</text>
<text transform="translate(277.1,316.6)" font-size="8.2" text-anchor="end" fill="#2b2b2b" stroke="#2b2b2b" stroke-width="0.22" font-style="italic">IGHD</text>
<text transform="translate(277.1,336.5)" font-size="8.2" text-anchor="end" fill="#2b2b2b" stroke="#2b2b2b" stroke-width="0.22" font-style="italic">IGHG3</text>
<text transform="translate(277.1,356.4)" font-size="8.2" text-anchor="end" fill="#2b2b2b" stroke="#2b2b2b" stroke-width="0.22" font-style="italic">IGHG1</text>
<text transform="translate(277.1,376.3)" font-size="8.2" text-anchor="end" fill="#2b2b2b" stroke="#2b2b2b" stroke-width="0.22" font-style="italic">IGHA1</text>
<text transform="translate(277.1,396.2)" font-size="8.2" text-anchor="end" fill="#2b2b2b" stroke="#2b2b2b" stroke-width="0.22" font-style="italic">IGHG2</text>
<text transform="translate(277.1,416.1)" font-size="8.2" text-anchor="end" fill="#2b2b2b" stroke="#2b2b2b" stroke-width="0.22" font-style="italic">IGHG4</text>
<text transform="translate(277.1,436)" font-size="8.2" text-anchor="end" fill="#2b2b2b" stroke="#2b2b2b" stroke-width="0.22" font-style="italic">IGHE</text>
<text transform="translate(277.1,455.9)" font-size="8.2" text-anchor="end" fill="#2b2b2b" stroke="#2b2b2b" stroke-width="0.22" font-style="italic">IGHA2</text>
<text transform="translate(378.6,491.8) scale(0.75,1)" font-size="10" text-anchor="middle" fill="#2b2b2b" stroke="#2b2b2b" stroke-width="0.22">Percent</text>
</svg>
<div id="frame"></div>
</div>
</body></html>
